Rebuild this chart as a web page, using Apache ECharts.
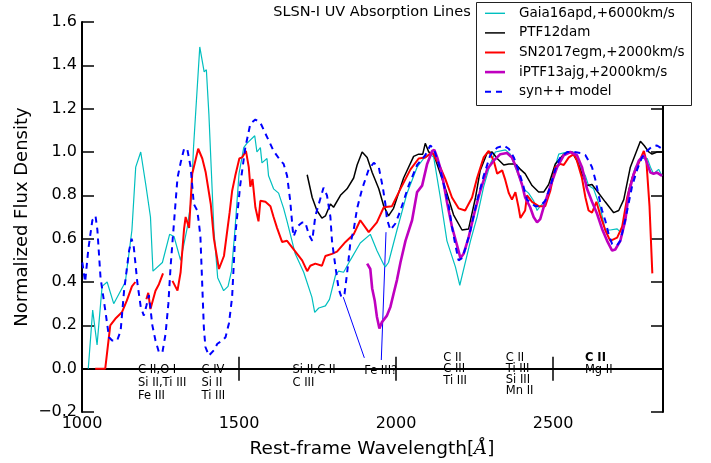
<!DOCTYPE html>
<html><head><meta charset="utf-8">
<script src="https://cdn.jsdelivr.net/npm/echarts@6/dist/echarts.min.js"></script>
<style>html,body{margin:0;padding:0;background:#fff}#c{width:711px;height:463px}</style>
</head><body><div id="c"></div>
<script>
// ---------- data (rest-frame wavelength [Å], normalized flux) ----------
const gaia16apd = [[1020,0],[1034,0.27],[1048,0.11],[1064,0.38],[1080,0.40],[1101,0.30],[1138,0.40],[1159,0.64],[1171,0.93],[1187,1.0],[1203,0.85],[1218,0.70],[1226,0.45],[1256,0.49],[1279,0.62],[1293,0.61],[1314,0.50],[1335,0.65],[1348,0.78],[1355,1.02],[1375,1.485],[1389,1.37],[1396,1.38],[1404,1.175],[1420,0.64],[1432,0.42],[1451,0.36],[1465,0.38],[1476,0.45],[1487,0.64],[1500,0.9],[1515,1.02],[1525,1.04],[1550,1.075],[1557,1.0],[1568,1.02],[1573,0.95],[1589,0.97],[1594,0.89],[1610,0.83],[1626,0.81],[1642,0.74],[1653,0.68],[1679,0.53],[1706,0.445],[1732,0.33],[1741,0.26],[1754,0.28],[1775,0.29],[1788,0.32],[1807,0.43],[1817,0.45],[1833,0.445],[1854,0.50],[1886,0.58],[1918,0.62],[1939,0.545],[1961,0.48],[1966,0.47],[1976,0.49],[2003,0.64],[2035,0.81],[2067,0.93],[2088,0.97],[2109,0.99],[2120,0.975],[2141,0.79],[2162,0.59],[2189,0.47],[2203,0.385],[2237,0.59],[2258,0.70],[2279,0.84],[2300,0.945],[2316,1.0],[2348,1.01],[2364,0.99],[2385,0.91],[2406,0.83],[2422,0.81],[2438,0.775],[2449,0.73],[2459,0.75],[2481,0.78],[2502,0.91],[2518,0.99],[2545,1.0],[2566,1.0],[2587,0.93],[2603,0.89],[2613,0.845],[2629,0.83],[2650,0.745],[2666,0.64],[2682,0.64],[2704,0.645],[2714,0.63],[2730,0.70],[2741,0.83],[2762,0.93],[2783,0.97],[2800,0.97],[2810,0.93],[2820,0.90],[2836,0.92],[2847,0.89]];

const ptf12dam = [[1717,0.895],[1733,0.79],[1748,0.73],[1764,0.695],[1775,0.705],[1791,0.76],[1801,0.745],[1823,0.80],[1844,0.83],[1865,0.88],[1876,0.94],[1892,1.0],[1908,0.975],[1924,0.905],[1945,0.83],[1961,0.75],[1976,0.705],[1992,0.74],[2024,0.88],[2056,0.98],[2072,0.99],[2085,0.99],[2093,1.04],[2104,1.0],[2120,0.99],[2141,0.90],[2162,0.81],[2183,0.71],[2210,0.64],[2231,0.645],[2253,0.79],[2268,0.915],[2290,0.995],[2306,1.0],[2322,0.97],[2343,0.94],[2359,0.945],[2380,0.945],[2396,0.92],[2411,0.90],[2433,0.845],[2454,0.815],[2470,0.815],[2486,0.85],[2507,0.945],[2534,0.99],[2560,1.0],[2576,0.96],[2592,0.90],[2608,0.845],[2624,0.85],[2640,0.82],[2666,0.77],[2693,0.72],[2709,0.73],[2725,0.78],[2746,0.93],[2762,0.99],[2778,1.05],[2790,1.03],[2805,1.0],[2815,0.99],[2831,1.0],[2847,1.0]];

const sn2017egm = [[1042,0],[1074,0],[1090,0.20],[1106,0.23],[1127,0.26],[1143,0.315],[1159,0.38],[1170,0.40],[1188,null],[1205,0.32],[1211,0.35],[1218,0.275],[1224,0.28],[1234,0.36],[1245,0.39],[1258,0.44],[1273,null],[1288,0.405],[1304,0.36],[1314,0.445],[1325,0.645],[1330,0.70],[1341,0.65],[1351,0.90],[1370,1.015],[1383,0.97],[1394,0.905],[1410,0.76],[1420,0.60],[1436,0.46],[1452,0.52],[1470,0.72],[1478,0.82],[1488,0.89],[1501,0.97],[1510,0.975],[1522,1.005],[1531,0.93],[1536,0.84],[1543,0.875],[1552,0.745],[1562,0.68],[1568,0.775],[1584,0.77],[1600,0.75],[1610,0.70],[1621,0.65],[1637,0.585],[1653,0.59],[1669,0.56],[1685,0.53],[1701,0.50],[1717,0.45],[1727,0.475],[1743,0.485],[1764,0.475],[1775,0.52],[1796,0.53],[1812,0.54],[1839,0.585],[1865,0.62],[1886,0.685],[1913,0.63],[1939,0.675],[1961,0.745],[1987,0.75],[2014,0.83],[2046,0.92],[2072,0.97],[2093,0.975],[2115,1.0],[2136,0.945],[2157,0.875],[2178,0.79],[2199,0.74],[2220,0.73],[2242,0.79],[2258,0.88],[2279,0.975],[2295,1.005],[2311,0.96],[2322,0.90],[2338,0.915],[2348,0.87],[2359,0.81],[2369,0.78],[2380,0.815],[2390,0.745],[2396,0.695],[2411,0.73],[2417,0.80],[2433,0.77],[2454,0.75],[2475,0.75],[2491,0.82],[2507,0.93],[2523,0.945],[2534,0.94],[2550,0.975],[2566,0.99],[2576,0.96],[2592,0.88],[2603,0.79],[2613,0.73],[2624,0.72],[2638,0.77],[2650,0.71],[2666,0.64],[2682,0.59],[2704,0.605],[2720,0.655],[2736,0.79],[2752,0.88],[2773,0.95],[2789,1.005],[2797,0.96],[2807,0.75],[2816,0.44]];

const iptf13ajg = [[1908,0.485],[1918,0.46],[1924,0.37],[1932,0.315],[1939,0.24],[1947,0.185],[1955,0.215],[1961,0.22],[1971,0.245],[1982,0.285],[1992,0.345],[2003,0.41],[2014,0.49],[2030,0.59],[2051,0.685],[2067,0.815],[2083,0.845],[2099,0.945],[2115,1.005],[2122,1.01],[2131,0.975],[2146,0.90],[2162,0.77],[2178,0.655],[2194,0.57],[2205,0.51],[2215,0.53],[2231,0.605],[2247,0.705],[2268,0.82],[2290,0.92],[2311,0.96],[2332,0.99],[2353,0.995],[2369,0.975],[2385,0.92],[2401,0.85],[2411,0.79],[2427,0.745],[2438,0.70],[2449,0.675],[2459,0.69],[2475,0.77],[2491,0.84],[2513,0.93],[2534,0.985],[2555,1.0],[2576,0.985],[2592,0.93],[2608,0.83],[2624,0.77],[2640,0.715],[2656,0.645],[2672,0.59],[2688,0.545],[2698,0.55],[2714,0.59],[2730,0.685],[2741,0.81],[2757,0.90],[2773,0.96],[2789,0.985],[2799,0.95],[2810,0.905],[2820,0.90],[2831,0.905],[2847,0.89]];

const synModel = [[1001,0.49],[1010,0.40],[1020,0.55],[1033,0.685],[1043,0.705],[1049,0.64],[1059,0.42],[1075,0.26],[1086,0.145],[1096,0.13],[1112,0.13],[1123,0.175],[1134,0.36],[1150,0.545],[1158,0.60],[1165,0.56],[1176,0.40],[1187,0.285],[1197,0.245],[1205,0.29],[1213,0.34],[1224,0.20],[1234,0.13],[1245,0.075],[1256,0.075],[1266,0.16],[1275,0.30],[1282,0.47],[1290,0.62],[1304,0.88],[1314,0.95],[1325,1.015],[1335,1.015],[1346,0.93],[1356,0.76],[1367,0.73],[1372,0.675],[1377,0.61],[1382,0.42],[1388,0.19],[1393,0.10],[1404,0.06],[1420,0.085],[1431,0.115],[1447,0.13],[1457,0.145],[1468,0.21],[1478,0.33],[1486,0.56],[1490,0.645],[1504,0.85],[1520,1.02],[1536,1.13],[1552,1.15],[1568,1.135],[1589,1.07],[1610,1.005],[1632,0.96],[1642,0.945],[1653,0.89],[1663,0.775],[1671,0.64],[1674,0.61],[1685,0.655],[1701,0.675],[1711,0.675],[1722,0.62],[1733,0.59],[1743,0.705],[1748,0.73],[1769,0.835],[1780,0.80],[1791,0.70],[1796,0.59],[1807,0.47],[1817,0.37],[1826,0.33],[1836,0.345],[1844,0.44],[1854,0.575],[1865,0.64],[1876,0.74],[1892,0.83],[1913,0.92],[1929,0.95],[1945,0.93],[1958,0.835],[1966,0.76],[1971,0.69],[1982,0.64],[1998,0.67],[2014,0.73],[2040,0.845],[2067,0.94],[2093,0.985],[2109,1.03],[2120,1.015],[2136,0.945],[2152,0.85],[2168,0.75],[2178,0.655],[2189,0.57],[2199,0.50],[2210,0.51],[2221,0.555],[2237,0.64],[2258,0.775],[2279,0.89],[2300,0.985],[2322,1.02],[2343,1.03],[2359,1.015],[2375,0.975],[2390,0.915],[2406,0.84],[2417,0.78],[2427,0.77],[2443,0.75],[2459,0.75],[2475,0.775],[2491,0.84],[2507,0.92],[2523,0.975],[2545,1.0],[2566,1.0],[2587,0.995],[2603,0.985],[2613,0.96],[2624,0.93],[2635,0.87],[2645,0.80],[2656,0.73],[2666,0.685],[2677,0.62],[2688,0.575],[2704,0.57],[2714,0.59],[2725,0.655],[2736,0.73],[2752,0.845],[2768,0.92],[2783,0.975],[2799,1.005],[2815,1.025],[2831,1.03],[2847,1.015]];

// pointer lines from the "Fe III?" label
const feLine1 = [[1832,0.33],[1899,0.05]];
const feLine2 = [[1968,0.63],[1953,0.04]];

// line identification labels: text, wavelength, flux (top of text block)
const annoTexts = ['C II,O I\nSi II,Ti III\nFe III','C IV\nSi II\nTi III','Si II,C II\nC III','Fe III?','C II\nC III\nTi III','C II\nTi III\nSi III\nMn II','{b|C II}\nMg II'];
const annoWave  = [1180,1382,1672,1900,2152,2351,2603];
const annoFlux  = [0.022,0.022,0.022,0.019,0.076,0.074,0.076];

const seriesNames = ['Gaia16apd,+6000km/s','PTF12dam','SN2017egm,+2000km/s','iPTF13ajg,+2000km/s','syn++ model'];
const xTicks = {min:1000, max:2850, step:500};
const yTicks = {min:-0.2, max:1.6, step:0.2};

// ---------- styles ----------
const FONT = 'DejaVu Sans';
const annoLineH = [13,13,13,13,11.7,11,12.3];
const seriesStyle = [
  {color:'#00bfbf', width:1.2, type:'solid'},
  {color:'#000000', width:1.5, type:'solid'},
  {color:'#ff0000', width:2,   type:'solid'},
  {color:'#bf00bf', width:2.6, type:'solid'},
  {color:'#0000ff', width:2,   type:[6,5]}
];

const chart = echarts.init(document.getElementById('c'));
const axisCommon = {
  axisLine:{show:true,lineStyle:{color:'#000',width:2}},
  axisTick:{show:true,inside:true,length:12,lineStyle:{color:'#000',width:1.5}},
  splitLine:{show:false}
};
const yFmt = v => (v < -1e-9 ? '\u2212' : '') + Math.abs(v).toFixed(1);
const xFmt = v => String(Math.round(v));

const lineSeries = (name, data, st, z) => ({
  name, type:'line', data, symbol:'none', showSymbol:false, connectNulls:false,
  lineStyle:{color:st.color, width:st.width, type:st.type}, itemStyle:{color:st.color}, z, silent:true, animation:false
});

const annoData = annoTexts.map((t,i)=>({value:[annoWave[i],annoFlux[i]],
  label:{lineHeight:annoLineH[i], rich:{b:{fontWeight:'bold',fontSize:11.5,lineHeight:annoLineH[i],color:'#000',fontFamily:FONT}}}, text:t}));

// hand-drawn legend box (matplotlib style)
const LEG = {x:476, y:2, w:215, h:103, lineX0:485, lineX1:505, textX:519, row0:13.3, rowGap:19.6};
const legendGraphics = [{type:'rect', shape:{x:LEG.x+0.5, y:LEG.y+0.5, width:LEG.w, height:LEG.h},
  style:{fill:'#fff', stroke:'#222', lineWidth:1}, z:30}];
seriesNames.forEach((n,i)=>{
  const cy = LEG.row0 + i*LEG.rowGap;
  const st = seriesStyle[i];
  legendGraphics.push({type:'line', shape:{x1:LEG.lineX0, y1:cy, x2:LEG.lineX1, y2:cy},
    style:{stroke:st.color, lineWidth:Math.max(st.width,1.4), lineDash: Array.isArray(st.type)?st.type:null}, z:31});
  legendGraphics.push({type:'text', x:LEG.textX, y:cy, style:{text:n, font:'13.5px "DejaVu Sans"', fill:'#000',
    textAlign:'left', textVerticalAlign:'middle'}, z:31});
});

chart.setOption({
  animation:false,
  textStyle:{fontFamily:FONT},
  grid:{left:82,right:48,top:22,bottom:51,containLabel:false},
  xAxis:[
    Object.assign({type:'value',position:'bottom',min:xTicks.min,max:xTicks.max,interval:xTicks.step,
      axisLabel:{show:true,color:'#000',fontSize:16,fontFamily:FONT,margin:4,showMaxLabel:false,formatter:xFmt}},axisCommon),
    Object.assign({type:'value',position:'top',min:xTicks.min,max:xTicks.max,interval:xTicks.step,
      axisLabel:{show:false}},axisCommon)
  ],
  yAxis:[
    Object.assign({type:'value',position:'left',min:yTicks.min,max:yTicks.max,interval:yTicks.step,
      axisLabel:{show:true,color:'#000',fontSize:16,fontFamily:FONT,margin:5,formatter:yFmt}},axisCommon),
    Object.assign({type:'value',position:'right',min:yTicks.min,max:yTicks.max,interval:yTicks.step,
      axisLabel:{show:false}},axisCommon)
  ],
  graphic:[
    {type:'text',x:372,y:12.5,style:{text:'SLSN-I UV Absorption Lines',font:'14.5px "DejaVu Sans"',fill:'#000',textAlign:'center',textVerticalAlign:'middle'},z:20},
    {type:'text',x:22,y:217,rotation:Math.PI/2,style:{text:'Normalized Flux Density',font:'18px "DejaVu Sans"',fill:'#000',textAlign:'center',textVerticalAlign:'middle'},z:20},
    {type:'text',x:372,y:449,style:{
      text:'Rest-frame Wavelength[{i|Å}]',
      rich:{i:{fontStyle:'italic',fontSize:18,fontFamily:'DejaVu Serif'}},
      font:'18.5px "DejaVu Sans"',fill:'#000',textAlign:'center',textVerticalAlign:'middle'},z:20}
  ].concat(legendGraphics),
  series:[
    lineSeries('feLine1', feLine1, {color:'#0000ff',width:1,type:'solid'}, 1),
    lineSeries('feLine2', feLine2, {color:'#0000ff',width:1,type:'solid'}, 1),
    lineSeries(seriesNames[0], gaia16apd, seriesStyle[0], 2),
    lineSeries(seriesNames[1], ptf12dam, seriesStyle[1], 3),
    lineSeries(seriesNames[2], sn2017egm, seriesStyle[2], 4),
    lineSeries(seriesNames[3], iptf13ajg, seriesStyle[3], 5),
    lineSeries(seriesNames[4], synModel, seriesStyle[4], 6),
    {
      name:'annotations', type:'scatter', data:annoData, symbolSize:1,
      itemStyle:{color:'rgba(0,0,0,0)'}, silent:true, z:7, clip:false,
      label:{show:true, position:[0,0], align:'left', verticalAlign:'top', opacity:1,
        textBorderWidth:0, textShadowBlur:0,
        formatter:p=>p.data.text, fontSize:11.5, color:'#000', fontFamily:FONT, lineHeight:12},
      labelLayout:{hideOverlap:false}
    }
  ]
});
</script></body></html>
